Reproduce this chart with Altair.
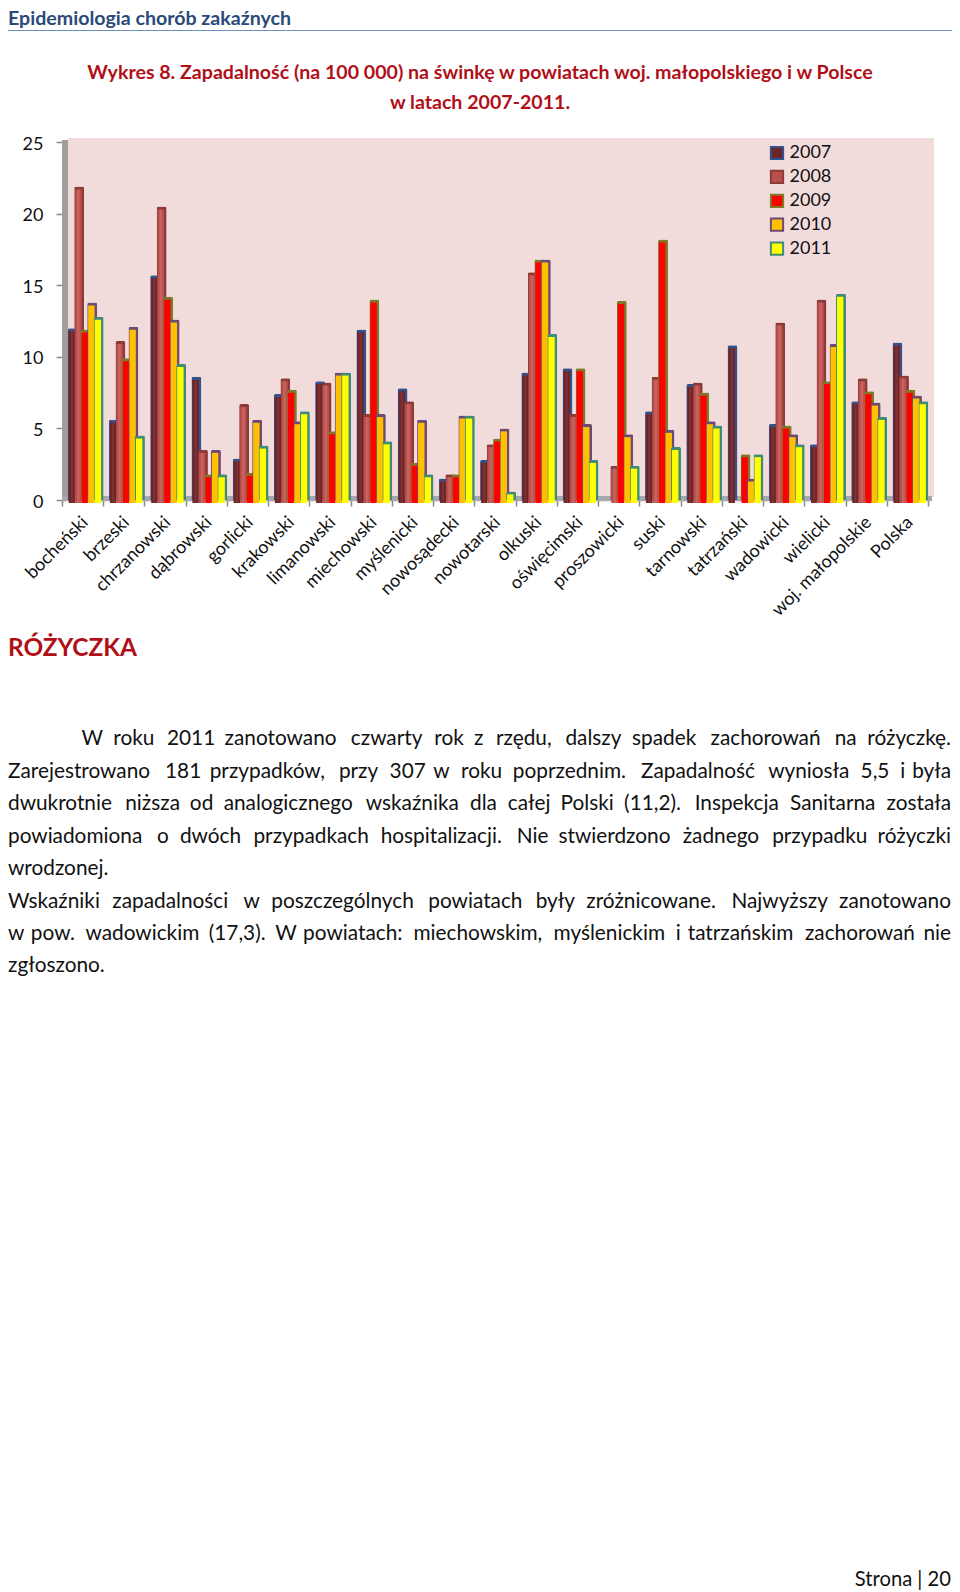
import altair as alt
import pandas as pd

powiaty = ["bocheński", "brzeski", "chrzanowski", "dąbrowski", "gorlicki", "krakowski", "limanowski",
           "miechowski", "myślenicki", "nowosądecki", "nowotarski", "olkuski", "oświęcimski", "proszowicki",
           "suski", "tarnowski", "tatrzański", "wadowicki", "wielicki", "woj. małopolskie", "Polska"]
years = ["2007", "2008", "2009", "2010", "2011"]
v2007 = [12.0, 5.6, 15.7, 8.6, 2.9, 7.4, 8.3, 11.9, 7.8, 1.5, 2.8, 8.9, 9.2, None, 6.2, 8.1, 10.8, 5.3, 3.9, 6.9, 11.0]
v2008 = [21.9, 11.1, 20.5, 3.5, 6.7, 8.5, 8.2, 6.0, 6.9, 1.8, 3.9, 15.9, 6.0, 2.4, 8.6, 8.2, None, 12.4, 14.0, 8.5, 8.7]
v2009 = [11.9, 9.9, 14.2, 1.8, 1.9, 7.7, 4.8, 14.0, 2.6, 1.8, 4.3, 16.8, 9.2, 13.9, 18.2, 7.5, 3.2, 5.2, 8.3, 7.6, 7.7]
v2010 = [13.8, 12.1, 12.6, 3.5, 5.6, 5.5, 8.9, 6.0, 5.6, 5.9, 5.0, 16.8, 5.3, 4.6, 4.9, 5.5, 1.5, 4.6, 10.9, 6.8, 7.3]
v2011 = [12.8, 4.5, 9.5, 1.8, 3.8, 6.2, 8.9, 4.1, 1.8, 5.9, 0.6, 11.6, 2.8, 2.4, 3.7, 5.2, 3.2, 3.9, 14.4, 5.8, 6.9]
series = [v2007, v2008, v2009, v2010, v2011]
fronts = ["#6b2427", "#b9504e", "#ff0000", "#ffc000", "#ffff00"]
sides = ["#34528c", "#8c3b39", "#7d7a2a", "#6d4a74", "#3f8a78"]
shines = ["#7d3032", "#c8625e", None, None, None]

rows = [{"powiat": p, "year": y, "rank": k, "value": s[i]}
        for k, (y, s) in enumerate(zip(years, series)) for i, p in enumerate(powiaty) if s[i] is not None]
df = pd.DataFrame(rows)

FONT = "Lato"
RED = "#b10f18"
PX0, PY0 = 62, 142  # page position of the plot origin
one = pd.DataFrame({"a": [0]})

x_enc = alt.X("powiat:N", sort=powiaty, title=None,
              scale=alt.Scale(domain=powiaty, paddingInner=0, paddingOuter=0),
              axis=alt.Axis(labelAngle=-45, labelAlign="right", labelBaseline="top", labelFont=FONT,
                            labelFontSize=18, labelColor="#111111", labelPadding=7, labelOffset=-4,
                            tickBand="extent", tickColor="#8a8a8a", tickSize=6, tickWidth=1.5,
                            domainColor="#9a9a9a", domainWidth=1.5, grid=False, labelOverlap=False))
y_enc = alt.Y("value:Q", title=None, scale=alt.Scale(domain=[0, 25], nice=False),
              axis=alt.Axis(values=[0, 5, 10, 15, 20, 25], labelFont=FONT, labelFontSize=18, labelColor="#111111",
                            labelPadding=13, labelOffset=2, tickColor="#8a8a8a", tickSize=6, tickWidth=1.5,
                            domain=False, grid=False))
front_off = alt.XOffset("front_off:Q", scale=None)
back_off = alt.XOffset("back_off:Q", scale=None)
legend = alt.Legend(orient="none", legendX=706, legendY=2, padding=0, symbolType="square",
                    symbolSize=150, symbolStrokeWidth=2, labelFont=FONT, labelFontSize=18,
                    labelColor="#111111", rowPadding=1.9, labelOffset=3.5, symbolOpacity=1, values=years)
fill_enc = alt.Fill("year:N", scale=alt.Scale(domain=years, range=fronts), title=None, legend=legend)
stroke_enc = alt.Stroke("year:N", scale=alt.Scale(domain=years, range=sides), title=None, legend=legend)


def rect(x1, x2, y1, y2, color):
    return alt.Chart(one).mark_rect(color=color).encode(
        x=alt.value(x1 - PX0), x2=alt.value(x2 - PX0), y=alt.value(y1 - PY0), y2=alt.value(y2 - PY0))


def txt(s, px, py, size, color="#111111", bold=False, align="left"):
    return alt.Chart(one).mark_text(text=s, font=FONT, fontSize=size, color=color, align=align,
                                    baseline="alphabetic", fontWeight="bold" if bold else "normal").encode(
        x=alt.value(px - PX0), y=alt.value(py - PY0))


layers = [
    rect(68, 934, 138, 497, "#f2dcdb"),
    rect(62, 68, 140, 501, "#a39d9b"),
    rect(62, 932, 496, 501, "#a6a8ab"),
]

for i, y in enumerate(years):
    d = df[df.year == y]
    base = alt.Chart(d).transform_calculate(front_off="9.9 + 6.5 * datum.rank", back_off="10.7 + 6.5 * datum.rank")
    layers.append(base.mark_bar(color=sides[i], size=10, cornerRadiusTopLeft=2, cornerRadiusTopRight=2).encode(
        x=x_enc, xOffset=back_off, y=y_enc))
    layers.append(base.mark_bar(size=6.4, yOffset=3, strokeWidth=0).encode(
        x=x_enc, xOffset=front_off, y=y_enc, fill=fill_enc, stroke=stroke_enc))
    if shines[i]:
        layers.append(base.mark_bar(color=shines[i], size=2.6, yOffset=3).encode(
            x=x_enc, xOffset=front_off, y=y_enc))

body = [
    (745.0, True, [("W", 79), ("roku", 111), ("2011", 165), ("zanotowano", 223), ("czwarty", 350), ("rok", 434), ("z", 474),
                   ("rzędu,", 496), ("dalszy", 566), ("spadek", 633), ("zachorowań", 712), ("na", 837), ("różyczkę.", 871)]),
    (777.6, True, [("Zarejestrowano", 5), ("181", 163), ("przypadków,", 208), ("przy", 338), ("307", 389), ("w", 433),
                   ("roku", 461), ("poprzednim.", 513), ("Zapadalność", 642), ("wyniosła", 770), ("5,5", 863), ("i", 903),
                   ("była", 919)]),
    (810.0, True, [("dwukrotnie", 5), ("niższa", 123), ("od", 188), ("analogicznego", 222), ("wskaźnika", 365), ("dla", 470),
                   ("całej", 508), ("Polski", 561), ("(11,2).", 625), ("Inspekcja", 696), ("Sanitarna", 792), ("została", 891)]),
    (842.6, True, [("powiadomiona", 5), ("o", 155), ("dwóch", 178), ("przypadkach", 252), ("hospitalizacji.", 380), ("Nie", 517),
                   ("stwierdzono", 559), ("żadnego", 684), ("przypadku", 774), ("różyczki", 882)]),
    (875.0, False, [("wrodzonej.", 5)]),
    (907.6, True, [("Wskaźniki", 5), ("zapadalności", 110), ("w", 242), ("poszczególnych", 270), ("powiatach", 428), ("były", 536),
                   ("zróżnicowane.", 587), ("Najwyższy", 733), ("zanotowano", 841)]),
    (940.0, True, [("w", 5), ("pow.", 28), ("wadowickim", 83), ("(17,3).", 207), ("W", 274), ("powiatach:", 302),
                   ("miechowskim,", 413), ("myślenickim", 554), ("i", 677), ("tatrzańskim", 689), ("zachorowań", 807), ("nie", 924)]),
    (972.3, False, [("zgłoszono.", 5)]),
]
for by, justified, words in body:
    for k, (w, wx) in enumerate(words):
        if justified and k == len(words) - 1:
            layers.append(txt(w, 951, by, 20.8, align="right"))
        else:
            layers.append(txt(w, 8 + (wx - 5) * 944 / 950, by, 20.8))

layers += [
    rect(8, 952, 30, 31, "#6f8fbd"),
    txt("Epidemiologia chorób zakaźnych", 8, 24.5, 19.6, "#2a4a7a", True),
    txt("Wykres 8. Zapadalność (na 100 000) na świnkę w powiatach woj. małopolskiego i w Polsce", 480, 79, 19.6, RED, True, "center"),
    txt("w latach 2007-2011.", 480, 108.5, 19.6, RED, True, "center"),
    txt("RÓŻYCZKA", 8, 655.5, 24.4, RED, True),
    txt("Strona | 20", 951, 1586, 20.2, align="right"),
]

chart = alt.layer(*layers).properties(
    width=866, height=358,
    padding={"left": 54, "top": 134, "right": 24, "bottom": 1092},
    autosize=alt.AutoSizeParams(type="none"),
    background="white",
).configure_view(stroke=None)

chart.save("out.html", embed_options={"renderer": "svg", "actions": False})
